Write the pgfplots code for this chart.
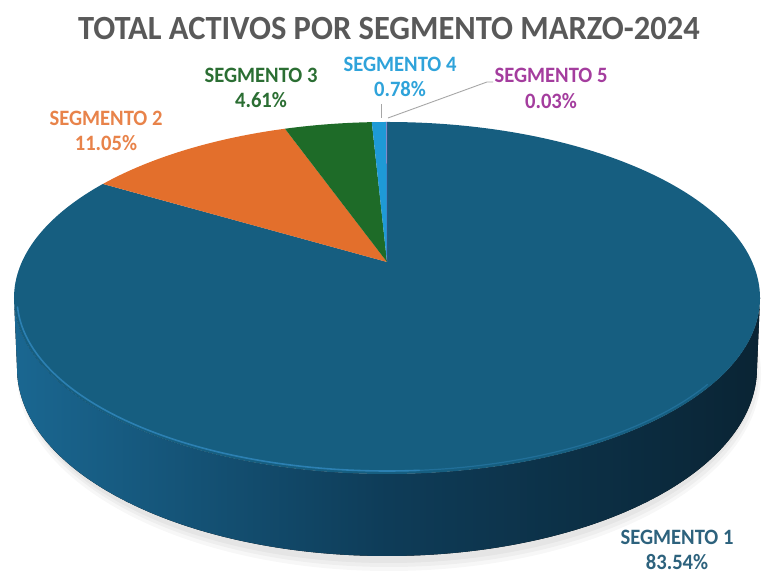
\documentclass[border=0pt]{standalone}
\usepackage{fontspec}
\setmainfont{Carlito}
\usepackage{pgfplots}
\pgfplotsset{compat=1.18}
\usepackage{pgfplotstable}

\pgfplotstableread{
seg pct
1 83.54
2 11.05
3 4.61
4 0.78
5 0.03
}\piedata

\definecolor{seg0}{RGB}{22,94,128}
\definecolor{seg1}{RGB}{227,111,44}
\definecolor{seg2}{RGB}{30,107,40}
\definecolor{seg3}{RGB}{30,154,214}
\definecolor{seg4}{RGB}{160,50,155}
\definecolor{lab0}{RGB}{45,98,125}
\definecolor{lab1}{RGB}{232,131,74}
\definecolor{lab2}{RGB}{43,110,51}
\definecolor{lab3}{RGB}{47,163,218}
\definecolor{lab4}{RGB}{164,61,158}
\definecolor{titlegray}{RGB}{89,89,89}
\definecolor{sideL}{RGB}{26,103,145}
\definecolor{sideM}{RGB}{14,60,88}
\definecolor{sideR}{RGB}{10,36,52}
\definecolor{rim}{RGB}{44,128,178}
\definecolor{leader}{RGB}{166,166,166}

% geometry (1 unit = 1 px of the reference, y upwards)
\def\Aa{373}   % half width of the top ellipse
\def\Bb{176}   % half height of the top ellipse
\def\Xc{387}   % centre of the top ellipse
\def\Yc{279}
\def\Ax{387}   % apex of the pie (perspective centre)
\def\Ay{315}

\newcommand\TofTheta[2]{%
  \pgfmathsetmacro\tmpden{1+\kk*sin(#1)}%
  \pgfmathsetmacro\tmpx{\RR*cos(#1)/\tmpden}%
  \pgfmathsetmacro\tmpy{\ss*sin(#1)/\tmpden}%
  \pgfmathsetmacro#2{atan2((\tmpy+\yoff)/\Bb,\tmpx/\Aa)}%
}

\begin{document}
\begin{tikzpicture}
\pgfmathsetmacro\kk{72/352}
\pgfmathsetmacro\ss{140*(1+\kk)}
\pgfmathsetmacro\RR{\Aa*sqrt(1-\kk*\kk)}
\pgfmathsetmacro\yoff{\ss*\kk/(1-\kk*\kk)}
\gdef\cum{0}
\pgfplotsforeachungrouped \i in {0,...,4}{%
  \pgfplotstablegetelem{\i}{pct}\of\piedata
  \let\p\pgfplotsretval
  \pgfmathsetmacro\angS{90-3.6*\cum}%
  \pgfmathsetmacro\cumnew{\cum+\p}%
  \xdef\cum{\cumnew}%
  \pgfmathsetmacro\angE{90-3.6*\cum}%
  \TofTheta{\angS}{\tS}%
  \TofTheta{\angE}{\tE}%
  \pgfmathparse{\tE>\tS+0.5 ? \tE-360 : \tE}\let\tE\pgfmathresult
  \pgfmathsetmacro\xS{\Xc+\Aa*cos(\tS)}%
  \pgfmathsetmacro\yS{\Yc+\Bb*sin(\tS)}%
  \expandafter\xdef\csname ts\i\endcsname{\tS}%
  \expandafter\xdef\csname te\i\endcsname{\tE}%
  \expandafter\xdef\csname xs\i\endcsname{\xS}%
  \expandafter\xdef\csname ys\i\endcsname{\yS}%
}
\begin{axis}[
  x=1bp, y=1bp,
  xmin=0, xmax=762, ymin=0, ymax=577,
  hide axis, clip=false,
  anchor=origin, at={(0,0)},
]
\path (axis cs:0,0) rectangle (axis cs:762,577);
% soft shadow
\fill[black, opacity=0.03] (axis cs:389,203) ellipse [x radius=372bp, y radius=197bp];
\fill[black, opacity=0.035] (axis cs:389,204) ellipse [x radius=370bp, y radius=194bp];
\fill[black, opacity=0.04] (axis cs:388,205) ellipse [x radius=368bp, y radius=191bp];
% side of the pie (segment 1)
\fill[left color=sideL, right color=sideR, middle color=sideM]
  (axis cs:14,279) arc[start angle=180, end angle=360, x radius=373bp, y radius=176bp]
  -- (axis cs:757,209) arc[start angle=0, end angle=-180, x radius=370bp, y radius=188bp]
  -- cycle;
% top faces
\pgfplotsinvokeforeach{0,...,4}{%
  \fill[seg#1] (axis cs:\Ax,\Ay) -- (axis cs:\csname xs#1\endcsname,\csname ys#1\endcsname)
    arc[start angle=\csname ts#1\endcsname, end angle=\csname te#1\endcsname,
        x radius=373bp, y radius=176bp] -- cycle;
}
% rim highlight
\draw[rim, line width=1.6bp, line cap=round] (axis cs:387,279) ++(183:370bp and 173bp)
  arc[start angle=183, end angle=275, x radius=370bp, y radius=173bp];
\draw[rim, line width=1.2bp, opacity=0.5, line cap=round] (axis cs:387,279) ++(275:370bp and 173bp)
  arc[start angle=275, end angle=330, x radius=370bp, y radius=173bp];
% leader lines
\draw[leader, line width=0.9bp] (axis cs:381,473) -- (axis cs:381,459);
\draw[leader, line width=0.9bp] (axis cs:388,459) -- (axis cs:487,495) -- (axis cs:493,495);
% labels
\tikzset{lbl/.style={font=\bfseries\fontsize{22}{25.5}\selectfont, align=center, inner sep=0pt, xscale=0.94}}
\node[lbl, text=lab0] at (axis cs:677,27) {SEGMENTO 1\\83.54\%};
\node[lbl, text=lab1] at (axis cs:106,446) {SEGMENTO 2\\11.05\%};
\node[lbl, text=lab2] at (axis cs:261,489) {SEGMENTO 3\\4.61\%};
\node[lbl, text=lab3] at (axis cs:400,500) {SEGMENTO 4\\0.78\%};
\node[lbl, text=lab4] at (axis cs:551,488.5) {SEGMENTO 5\\0.03\%};
% title
\node[font=\bfseries\fontsize{34}{40}\selectfont, text=titlegray, inner sep=0pt, xscale=0.96] at (axis cs:389,548)
  {TOTAL ACTIVOS POR SEGMENTO MARZO-2024};
\end{axis}
\end{tikzpicture}
\end{document}
